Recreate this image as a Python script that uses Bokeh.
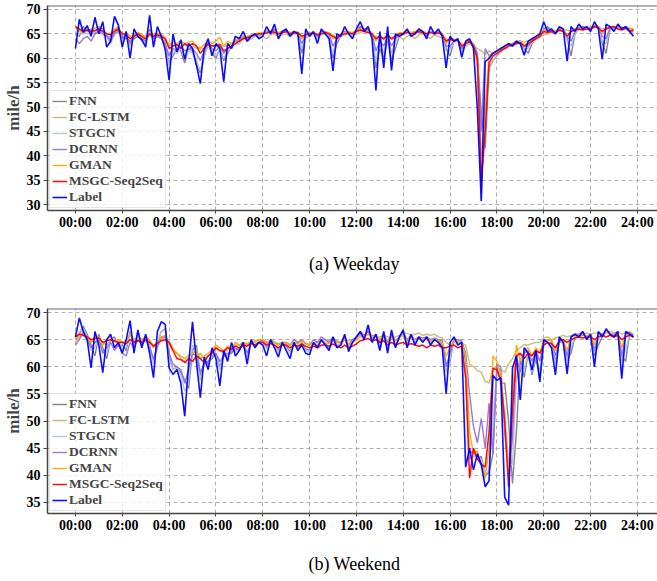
from bokeh.plotting import figure
from bokeh.layouts import column
from bokeh.models import Legend, LegendItem, Span, FixedTicker, Range1d
from bokeh.core.properties import value
from bokeh.embed import file_html
from bokeh.resources import INLINE

# ---------------- data (10-minute samples, 00:00 .. 23:50) ----------------
tick_hours = [0, 2, 4, 6, 8, 10, 12, 14, 16, 18, 20, 22, 24]
tick_labels = ["00:00", "02:00", "04:00", "06:00", "08:00", "10:00", "12:00",
               "14:00", "16:00", "18:00", "20:00", "22:00", "24:00"]
series_names = ["FNN", "FC-LSTM", "STGCN", "DCRNN", "GMAN", "MSGC-Seq2Seq", "Label"]
captions = ["(a)  Weekday", "(b)  Weekend"]

wd_label = [
    62.0, 68.0, 65.3, 66.7, 64.5, 68.4,  65.0, 67.5, 62.3, 63.5, 68.6, 66.8,
    62.3, 65.5, 60.0, 66.0, 64.5, 63.8,  62.3, 68.8, 62.3, 66.5, 64.5, 61.8,
    55.5, 65.0, 61.3, 63.8, 59.8, 63.0,  62.0, 58.6, 54.8, 62.0, 64.0, 60.5,
    63.0, 62.0, 55.2, 63.0, 62.0, 64.5,  64.0, 65.5, 63.5, 64.5, 65.0, 64.0,
    64.5, 66.5, 65.0, 67.0, 64.0, 65.5,  66.0, 64.5, 65.5, 65.0, 56.8, 66.0,
    64.5, 65.5, 63.0, 66.0, 65.0, 64.0,  57.4, 65.0, 64.5, 66.5, 65.0, 64.0,
    66.0, 67.5, 65.5, 66.5, 64.0, 53.4,  65.5, 58.0, 66.5, 57.5, 65.0, 64.5,
    65.0, 66.0, 64.5, 65.0, 66.0, 65.5,  64.0, 66.5, 65.0, 66.0, 64.5, 58.0,
    64.5, 63.5, 64.0, 60.2, 63.5, 64.0,  62.0, 49.5, 30.7, 59.3, 60.0, 61.0,
    61.5, 62.0, 62.5, 63.0, 62.5, 63.5,  63.0, 60.6, 63.5, 64.0, 64.5, 65.0,
    67.5, 65.5, 66.0, 65.0, 66.5, 66.0,  59.4, 66.5, 65.5, 67.0, 66.0, 66.5,
    65.5, 67.5, 66.0, 59.8, 67.0, 66.5,  65.5, 67.0, 66.0, 66.5, 65.5, 64.5]
wd_msgc = [
    66.5, 66.0, 65.5, 65.8, 65.5, 65.7,  66.0, 65.5, 65.0, 64.8, 65.5, 66.0,
    65.0, 64.8, 64.0, 64.5, 65.0, 64.5,  64.0, 65.0, 64.5, 64.8, 64.5, 64.0,
    62.0, 62.5, 62.8, 62.0, 63.0, 62.5,  63.0, 62.5, 61.0, 62.0, 63.0, 62.5,
    62.5, 62.8, 61.5, 62.0, 62.5, 63.0,  63.5, 64.0, 64.2, 64.5, 64.8, 65.0,
    65.0, 65.2, 65.5, 65.3, 65.0, 65.2,  65.5, 65.0, 65.2, 65.3, 64.5, 64.8,
    65.0, 65.2, 64.8, 65.0, 65.3, 65.0,  64.5, 64.0, 64.8, 65.0, 65.2, 65.0,
    65.5, 65.8, 65.5, 65.3, 65.0, 64.0,  64.5, 64.0, 64.8, 64.0, 64.5, 65.0,
    65.0, 65.3, 65.0, 65.2, 65.5, 65.3,  65.0, 65.3, 65.0, 65.2, 64.8, 63.5,
    64.0, 63.5, 63.8, 62.5, 63.0, 63.5,  62.5, 60.0, 34.7, 45.0, 59.0, 60.5,
    61.0, 61.5, 62.0, 62.5, 62.8, 63.0,  63.2, 62.5, 63.0, 63.5, 64.0, 64.5,
    65.5, 65.3, 65.5, 65.2, 65.8, 65.5,  64.5, 65.5, 65.8, 66.0, 65.8, 66.0,
    66.0, 66.5, 66.2, 65.5, 66.0, 66.3,  66.5, 66.0, 65.8, 66.2, 65.5, 65.8]
wd_fnn = [
    65.0, 64.5, 66.5, 65.5, 66.0, 65.0,  66.5, 66.0, 65.0, 63.5, 65.5, 66.5,
    64.0, 65.0, 63.0, 64.5, 65.0, 64.0,  63.5, 66.0, 64.5, 65.0, 64.5, 63.0,
    59.0, 60.5, 62.0, 61.5, 59.0, 62.0,  61.5, 58.5, 57.0, 60.5, 63.0, 61.0,
    60.0, 62.0, 59.5, 61.0, 62.5, 63.0,  63.0, 64.5, 63.5, 64.0, 64.5, 64.5,
    65.0, 65.5, 65.5, 66.0, 65.0, 65.5,  65.5, 65.0, 65.5, 65.0, 61.0, 65.0,
    65.0, 65.0, 64.0, 65.5, 65.0, 64.5,  60.0, 63.0, 64.5, 65.5, 65.0, 64.5,
    65.5, 66.5, 66.0, 66.0, 65.0, 58.0,  62.0, 60.0, 64.0, 59.5, 62.0, 64.5,
    65.0, 65.5, 65.0, 65.0, 65.5, 65.5,  64.5, 65.5, 65.0, 65.5, 65.0, 62.0,
    60.5, 63.5, 63.5, 62.0, 62.5, 63.5,  62.5, 60.0, 49.0, 41.5, 58.0, 59.5,
    60.5, 61.5, 62.0, 62.5, 62.5, 63.0,  63.0, 62.0, 61.0, 63.0, 64.0, 64.5,
    66.0, 66.5, 65.5, 65.0, 66.0, 66.0,  64.0, 60.5, 65.0, 66.0, 66.5, 66.0,
    66.0, 66.5, 66.5, 63.0, 61.0, 66.0,  66.0, 66.5, 66.0, 66.0, 66.0, 65.0]
wd_gman = [
    66.0, 65.5, 65.8, 66.0, 65.5, 66.2,  66.3, 65.5, 65.0, 65.0, 66.0, 66.2,
    65.0, 65.2, 64.5, 64.8, 65.3, 64.8,  64.5, 65.5, 64.8, 65.2, 65.0, 64.2,
    62.5, 63.5, 63.0, 63.5, 63.0, 63.3,  63.5, 62.5, 62.0, 62.8, 63.5, 63.0,
    63.5, 64.3, 62.5, 63.5, 63.0, 63.8,  64.0, 64.5, 64.5, 64.8, 65.0, 65.2,
    65.2, 65.5, 65.5, 65.5, 65.3, 65.5,  65.5, 65.3, 65.5, 65.3, 64.0, 65.0,
    65.3, 65.3, 65.0, 65.3, 65.5, 65.2,  64.0, 64.5, 65.0, 65.3, 65.5, 65.2,
    65.8, 66.0, 65.8, 65.5, 65.3, 63.5,  64.8, 63.8, 65.0, 63.8, 64.8, 65.2,
    65.3, 65.5, 65.3, 65.5, 65.8, 65.5,  65.2, 65.5, 65.3, 65.5, 65.0, 63.0,
    64.3, 63.8, 63.8, 62.5, 63.3, 63.8,  62.8, 59.0, 30.8, 50.0, 60.5, 61.0,
    61.3, 61.8, 62.3, 62.8, 63.0, 63.3,  63.5, 62.5, 63.3, 63.8, 64.3, 64.8,
    65.8, 65.5, 65.8, 65.5, 66.0, 65.8,  64.3, 65.5, 66.0, 66.2, 66.0, 66.2,
    66.2, 66.8, 66.3, 65.0, 66.2, 66.5,  66.5, 66.3, 66.0, 66.3, 65.8, 66.0]
wd_fclstm = [
    66.5, 65.5, 65.0, 65.8, 65.2, 65.5,  66.0, 65.5, 64.5, 64.5, 65.5, 65.8,
    64.8, 64.5, 64.0, 64.2, 64.8, 64.2,  64.0, 64.8, 64.2, 64.5, 64.2, 63.5,
    63.0, 62.5, 62.8, 62.5, 62.8, 62.0,  62.5, 62.0, 62.3, 61.8, 63.0, 62.5,
    62.8, 63.0, 62.5, 62.5, 63.0, 63.5,  63.8, 64.0, 64.3, 64.5, 64.5, 64.8,
    64.5, 64.0, 64.8, 65.0, 64.5, 64.8,  65.0, 64.5, 65.0, 64.8, 64.5, 64.2,
    64.5, 65.0, 64.5, 64.8, 65.0, 64.8,  64.8, 64.2, 64.5, 64.8, 65.0, 64.8,
    65.0, 65.3, 65.5, 65.2, 64.8, 64.5,  64.2, 64.0, 64.3, 64.0, 64.2, 64.5,
    63.8, 64.5, 64.8, 64.0, 64.8, 65.0,  64.5, 64.0, 64.8, 64.5, 64.2, 64.0,
    63.5, 64.0, 63.5, 63.0, 62.5, 63.0,  62.5, 62.0, 61.5, 60.8, 61.5, 61.0,
    61.5, 62.0, 62.3, 62.5, 63.0, 63.3,  63.5, 63.3, 63.5, 63.8, 64.0, 64.3,
    64.8, 65.0, 65.3, 65.5, 65.5, 65.8,  65.8, 65.5, 66.0, 65.8, 66.0, 66.2,
    66.0, 66.3, 66.5, 66.0, 66.2, 66.5,  66.3, 66.5, 66.0, 66.5, 66.2, 66.0]
wd_stgcn = [
    65.5, 65.0, 66.0, 65.0, 65.5, 65.3,  66.0, 65.5, 64.5, 63.0, 65.0, 66.0,
    64.5, 64.5, 62.5, 64.0, 64.5, 63.5,  63.0, 65.5, 64.0, 64.5, 64.0, 62.5,
    58.5, 61.5, 61.0, 62.0, 60.0, 61.5,  61.0, 59.5, 57.5, 60.5, 62.5, 61.5,
    60.5, 62.0, 60.0, 61.5, 62.0, 63.0,  63.0, 64.0, 63.5, 64.0, 64.5, 64.5,
    64.8, 65.3, 65.0, 65.5, 64.8, 65.2,  65.3, 64.8, 65.2, 65.0, 62.0, 64.5,
    64.8, 65.0, 64.0, 65.3, 65.0, 64.5,  61.0, 63.5, 64.5, 65.3, 65.0, 64.5,
    65.3, 66.3, 65.8, 65.8, 64.8, 59.5,  63.0, 61.0, 64.5, 61.0, 63.5, 64.5,
    64.8, 65.3, 64.8, 65.0, 65.3, 65.3,  64.5, 65.3, 64.8, 65.3, 64.8, 61.5,
    61.5, 63.5, 63.5, 61.5, 62.5, 63.5,  62.5, 58.0, 40.0, 50.0, 58.5, 59.5,
    60.8, 61.5, 62.0, 62.5, 62.8, 63.0,  63.0, 61.8, 62.0, 63.3, 64.0, 64.5,
    65.8, 66.0, 65.5, 65.0, 66.0, 65.8,  63.5, 62.5, 65.0, 66.0, 66.3, 66.0,
    66.0, 66.5, 66.3, 63.5, 63.0, 66.0,  66.0, 66.3, 66.0, 66.0, 65.8, 65.0]
wd_dcrnn = [
    64.0, 63.0, 64.0, 64.5, 63.5, 65.0,  65.5, 65.0, 64.5, 63.5, 65.0, 65.5,
    64.5, 64.0, 63.5, 64.0, 64.5, 64.0,  63.5, 65.0, 64.0, 64.5, 64.0, 63.0,
    60.5, 62.0, 61.5, 62.5, 61.5, 62.0,  62.0, 61.0, 59.5, 61.5, 63.0, 62.0,
    61.5, 62.5, 61.0, 62.0, 62.5, 63.5,  63.5, 64.5, 64.0, 64.5, 65.0, 65.0,
    65.0, 65.5, 65.3, 65.8, 65.0, 65.5,  65.8, 65.0, 65.5, 65.3, 63.0, 64.8,
    65.0, 65.3, 64.5, 65.5, 65.3, 65.0,  62.5, 64.0, 65.0, 65.5, 65.3, 65.0,
    65.5, 66.5, 66.0, 65.8, 65.0, 61.5,  63.5, 62.5, 64.5, 62.5, 64.0, 65.0,
    65.0, 65.5, 65.0, 65.3, 65.5, 65.5,  64.8, 65.5, 65.0, 65.5, 65.0, 62.5,
    62.5, 63.5, 63.8, 62.0, 63.0, 63.8,  63.0, 61.0, 45.0, 62.0, 60.5, 61.0,
    61.5, 62.0, 62.5, 63.0, 63.0, 63.5,  63.5, 62.5, 62.5, 63.5, 64.3, 64.8,
    66.0, 66.3, 65.8, 65.3, 66.3, 66.0,  64.5, 63.5, 65.5, 66.3, 66.5, 66.3,
    66.3, 66.8, 66.5, 64.5, 64.0, 66.3,  66.3, 66.5, 66.3, 66.3, 66.0, 65.5]

we_label = [
    65.5, 69.0, 66.5, 65.0, 59.8, 66.5,  64.0, 58.9, 65.0, 66.0, 63.5, 64.5,
    62.5, 65.0, 68.5, 62.5, 66.8, 63.5,  66.0, 62.5, 58.0, 66.5, 68.3, 67.8,
    59.8, 58.6, 59.5, 57.0, 50.9, 60.5,  68.3, 61.0, 54.3, 61.8, 59.5, 63.5,
    61.5, 56.5, 63.0, 61.0, 64.5, 62.0,  63.0, 64.5, 60.5, 65.0, 63.5, 64.5,
    64.0, 62.0, 65.0, 63.5, 61.8, 64.5,  63.0, 61.5, 64.5, 63.0, 64.0, 62.5,
    62.2, 64.5, 63.5, 65.0, 64.0, 63.0,  65.5, 63.5, 64.0, 66.0, 62.8, 64.5,
    65.5, 66.5, 65.0, 67.7, 64.5, 66.0,  63.0, 66.5, 62.5, 66.8, 63.5, 65.5,
    66.8, 63.5, 66.0, 64.0, 65.5, 64.5,  65.5, 64.0, 65.0, 64.5, 63.5, 55.0,
    64.5, 65.5, 64.0, 64.5, 41.5, 45.0,  41.0, 44.0, 42.0, 37.9, 39.0, 58.4,
    57.5, 58.0, 36.0, 34.5, 59.8, 62.0,  53.9, 63.5, 62.5, 59.4, 63.0, 57.2,
    65.0, 64.5, 63.5, 58.5, 65.5, 64.5,  58.7, 65.5, 66.0, 65.5, 66.5, 65.0,
    66.0, 60.0, 66.5, 65.5, 67.0, 66.0,  65.5, 66.5, 57.8, 66.5, 66.0, 65.5]
we_msgc = [
    65.5, 66.0, 65.8, 65.5, 65.0, 65.2,  65.3, 64.5, 64.8, 65.0, 64.8, 64.5,
    64.5, 64.3, 65.0, 64.5, 64.8, 64.5,  65.0, 64.5, 63.8, 64.3, 64.8, 65.0,
    64.5, 63.0, 61.5, 61.3, 60.8, 61.5,  61.0, 62.0, 61.5, 60.8, 62.0, 62.5,
    63.5, 63.0, 62.8, 63.5, 63.2, 63.8,  63.5, 64.0, 63.8, 64.3, 64.0, 64.5,
    64.5, 64.0, 64.3, 64.0, 63.5, 64.0,  64.0, 63.5, 64.0, 63.8, 64.2, 63.8,
    63.5, 63.8, 63.5, 64.0, 64.0, 63.8,  64.2, 63.8, 63.5, 64.0, 63.5, 63.8,
    64.2, 64.8, 65.0, 65.2, 64.8, 65.0,  64.5, 64.8, 64.0, 64.5, 64.0, 64.3,
    64.5, 64.0, 64.3, 64.0, 63.8, 64.0,  63.5, 64.0, 63.8, 64.0, 63.5, 63.5,
    63.8, 64.0, 63.5, 63.8, 58.0, 39.5,  45.0, 43.0, 42.0, 41.5, 48.0, 59.7,
    59.5, 57.5, 50.0, 37.8, 52.0, 62.0,  62.5, 61.5, 62.5, 62.0, 63.0, 62.5,
    64.0, 64.5, 64.3, 63.5, 64.8, 65.0,  64.5, 65.0, 65.3, 65.5, 65.3, 65.5,
    65.5, 65.0, 65.5, 65.8, 65.5, 65.8,  65.5, 65.8, 65.0, 65.5, 65.8, 65.5]
we_gman = [
    65.0, 66.0, 66.0, 65.5, 64.5, 65.5,  65.5, 64.0, 65.0, 65.5, 64.5, 65.0,
    64.5, 64.8, 66.0, 64.8, 65.5, 65.0,  65.5, 65.0, 63.5, 64.5, 65.5, 65.8,
    64.0, 63.0, 62.5, 62.0, 61.5, 62.0,  62.5, 63.0, 61.5, 62.0, 62.5, 63.0,
    64.0, 63.5, 63.0, 63.8, 63.5, 64.5,  64.0, 64.5, 64.0, 64.8, 64.5, 65.0,
    65.0, 64.5, 64.8, 64.5, 64.0, 64.5,  64.5, 64.0, 64.5, 64.2, 64.8, 64.3,
    64.0, 64.5, 64.0, 64.8, 64.5, 64.3,  65.0, 64.5, 64.3, 65.0, 64.0, 64.5,
    65.0, 65.8, 65.5, 66.0, 65.5, 65.8,  65.0, 65.8, 64.8, 65.5, 64.8, 65.3,
    65.8, 64.8, 65.5, 65.0, 65.3, 65.0,  65.0, 64.8, 65.0, 64.8, 64.5, 62.0,
    63.5, 65.0, 64.5, 64.5, 62.0, 48.0,  44.0, 44.5, 42.0, 39.5, 45.0, 62.0,
    61.0, 58.5, 50.0, 40.0, 55.0, 64.0,  61.0, 63.0, 63.5, 62.0, 63.5, 62.5,
    65.0, 65.0, 64.8, 63.0, 65.3, 65.0,  63.0, 65.5, 66.0, 65.8, 66.3, 65.5,
    66.0, 64.0, 66.3, 65.8, 66.5, 66.0,  65.8, 66.3, 63.5, 66.0, 66.0, 65.5]
we_fclstm = [
    64.5, 65.5, 65.8, 65.0, 64.8, 64.5,  65.0, 64.5, 64.0, 64.8, 65.0, 64.3,
    64.5, 64.0, 65.0, 65.3, 65.0, 64.5,  65.0, 64.8, 64.0, 64.2, 65.0, 65.5,
    64.8, 63.5, 62.5, 61.5, 61.0, 60.5,  61.0, 61.8, 62.5, 61.5, 62.0, 62.8,
    63.5, 63.0, 62.5, 63.0, 63.5, 64.0,  64.0, 64.5, 64.3, 64.5, 64.8, 65.0,
    64.8, 64.5, 64.8, 64.5, 64.3, 64.5,  64.3, 64.0, 64.3, 64.5, 64.5, 64.3,
    64.0, 64.3, 64.5, 64.8, 65.0, 64.8,  65.0, 64.8, 64.5, 65.0, 64.8, 65.0,
    65.3, 65.5, 65.8, 66.0, 65.8, 65.5,  65.5, 65.8, 65.5, 65.3, 65.5, 65.8,
    66.0, 66.2, 65.8, 66.0, 66.2, 65.8,  66.0, 65.8, 66.0, 65.5, 65.3, 64.5,
    64.0, 64.5, 64.8, 64.3, 64.0, 60.5,  60.0, 59.3, 59.0, 57.3, 57.0, 59.8,
    60.0, 59.5, 59.0, 60.5, 61.5, 63.0,  63.5, 64.1, 64.0, 64.3, 64.5, 64.5,
    65.3, 65.5, 65.0, 65.3, 65.5, 65.8,  65.5, 65.8, 66.0, 65.8, 66.0, 66.2,
    66.0, 66.2, 66.3, 66.0, 66.3, 66.5,  66.3, 66.5, 66.0, 66.3, 66.5, 66.0]
we_dcrnn = [
    64.0, 65.0, 66.5, 65.0, 63.5, 64.5,  65.0, 62.5, 63.5, 64.5, 63.0, 64.0,
    62.5, 62.0, 64.5, 63.5, 65.0, 64.0,  65.0, 63.5, 61.5, 63.5, 65.5, 65.5,
    62.5, 60.5, 60.0, 59.5, 57.0, 59.5,  62.5, 62.0, 59.0, 60.5, 61.0, 61.5,
    62.5, 61.0, 62.0, 62.5, 62.5, 63.5,  63.0, 64.5, 62.5, 64.5, 64.0, 64.5,
    65.0, 64.0, 65.0, 64.5, 64.0, 64.5,  64.5, 64.0, 65.0, 64.5, 65.0, 64.3,
    64.0, 65.0, 64.5, 65.5, 65.0, 64.5,  65.5, 64.5, 64.5, 65.5, 64.0, 65.0,
    65.5, 66.5, 65.8, 66.5, 65.5, 66.0,  64.5, 66.0, 64.5, 66.0, 64.8, 65.5,
    66.3, 65.0, 65.8, 65.0, 65.5, 65.3,  65.5, 65.0, 65.3, 65.0, 64.8, 60.0,
    62.5, 65.0, 65.0, 64.8, 62.5, 55.0,  49.0, 46.0, 50.5, 45.0, 53.3, 44.0,
    60.5, 60.0, 48.0, 40.0, 47.0, 62.0,  59.0, 62.5, 63.0, 61.0, 63.0, 61.0,
    64.5, 65.0, 64.8, 62.0, 65.0, 65.0,  62.0, 65.5, 66.0, 66.0, 66.5, 65.5,
    66.0, 63.0, 66.3, 66.0, 66.5, 66.0,  66.0, 66.5, 62.0, 66.0, 66.3, 65.8]
we_fnn = [
    65.0, 66.0, 67.5, 66.0, 64.0, 62.0,  66.0, 63.5, 61.5, 65.0, 65.5, 64.0,
    64.0, 63.0, 66.5, 64.0, 66.0, 64.5,  65.5, 64.0, 61.0, 64.5, 66.5, 67.0,
    62.0, 59.5, 60.0, 59.0, 57.5, 56.0,  63.0, 64.0, 58.5, 60.5, 61.0, 62.0,
    62.5, 60.0, 62.0, 62.0, 63.0, 63.0,  63.5, 64.0, 62.0, 64.5, 64.0, 64.5,
    64.5, 63.5, 64.5, 64.0, 63.0, 64.5,  63.8, 62.8, 64.3, 63.5, 64.3, 63.3,
    63.0, 64.3, 63.8, 64.8, 64.3, 63.5,  65.0, 64.0, 64.0, 65.5, 63.5, 64.5,
    65.3, 66.0, 65.3, 66.8, 65.0, 65.8,  64.0, 65.8, 63.5, 66.0, 64.0, 65.3,
    66.3, 64.3, 65.8, 64.5, 65.3, 64.8,  65.3, 64.5, 65.0, 64.8, 64.0, 60.5,
    61.0, 65.0, 64.5, 64.5, 61.0, 44.0,  44.5, 43.0, 43.5, 40.0, 40.5, 44.0,
    60.0, 57.0, 57.0, 50.0, 38.5, 48.0,  61.5, 58.0, 62.5, 58.5, 61.5, 58.0,
    64.0, 64.5, 64.0, 61.0, 64.5, 64.5,  61.5, 62.5, 65.5, 65.5, 66.0, 65.5,
    66.0, 62.0, 64.0, 65.5, 66.5, 66.0,  65.5, 66.0, 62.0, 61.0, 66.0, 65.5]
we_stgcn = [
    65.3, 66.5, 67.0, 65.5, 63.0, 63.5,  65.5, 62.5, 62.5, 65.0, 65.0, 64.3,
    63.5, 63.5, 66.3, 63.8, 65.8, 64.3,  65.3, 63.8, 60.5, 64.5, 66.5, 66.8,
    61.5, 59.5, 59.8, 58.5, 55.5, 57.5,  64.0, 63.0, 57.5, 60.8, 60.5, 62.3,
    62.3, 59.5, 62.3, 61.8, 63.3, 62.8,  63.3, 64.3, 62.0, 64.5, 63.8, 64.5,
    64.3, 63.3, 64.5, 63.8, 62.8, 64.3,  63.5, 62.5, 64.3, 63.3, 64.0, 63.0,
    62.8, 64.3, 63.5, 64.8, 64.0, 63.5,  65.0, 63.8, 64.0, 65.5, 63.3, 64.5,
    65.3, 66.0, 65.3, 66.8, 64.8, 65.8,  63.8, 65.8, 63.3, 66.0, 63.8, 65.3,
    66.3, 64.0, 65.8, 64.5, 65.3, 64.5,  65.3, 64.3, 65.0, 64.5, 63.8, 59.0,
    61.5, 65.0, 64.3, 64.5, 58.0, 43.0,  43.5, 43.5, 43.0, 40.0, 41.0, 50.0,
    59.0, 57.5, 52.0, 42.0, 42.0, 58.0,  60.0, 59.5, 62.5, 59.0, 62.0, 59.0,
    64.3, 64.5, 63.8, 60.5, 64.8, 64.3,  61.0, 63.5, 65.8, 65.5, 66.3, 65.3,
    66.0, 62.5, 65.0, 65.5, 66.5, 66.0,  65.5, 66.3, 61.0, 63.0, 66.0, 65.5]

hours = [i / 6 for i in range(len(wd_label))]

colors = ["#808080", "#c8b870", "#b0c4de", "#9370db", "#ffa500", "#ff0000", "#0000ff"]
widths = [1.4, 1.4, 1.4, 1.4, 1.4, 1.5, 1.6]

SERIF = "Liberation Serif"
W = 657


def make_panel(series, y_start, y_end, height, border_top, border_bottom):
    p = figure(width=W, height=height, output_backend="svg", toolbar_location=None,
               x_range=Range1d(-1.194, 24.86), y_range=Range1d(y_start, y_end),
               min_border_left=46, min_border_right=0, min_border_top=border_top,
               min_border_bottom=border_bottom)
    p.outline_line_color = None
    items = []
    for name, ys, c, w in zip(series_names, series, colors, widths):
        r = p.line(hours, ys, line_color=c, line_width=w, line_alpha=0.95)
        items.append(LegendItem(label=name, renderers=[r]))
    legend = Legend(items=items, location="bottom_left",
                    label_text_font=SERIF, label_text_font_style="bold",
                    label_text_font_size="13.5px", label_height=14, glyph_height=14,
                    glyph_width=15, label_standoff=2, spacing=0, padding=2, margin=2,
                    border_line_color="#cccccc", background_fill_alpha=0.8)
    p.add_layout(legend)

    p.xaxis.ticker = FixedTicker(ticks=tick_hours)
    p.xaxis.major_label_overrides = {h: s for h, s in zip(tick_hours, tick_labels)}
    p.yaxis.ticker = FixedTicker(ticks=[v for v in range(30, 71, 5) if v >= y_start])
    for ax in (p.xaxis[0], p.yaxis[0]):
        ax.major_label_text_font = SERIF
        ax.major_label_text_font_style = "bold"
        ax.major_label_text_font_size = "14px"
        ax.major_label_text_color = "#000000"
        ax.axis_line_color = "#444444"
        ax.axis_line_width = 1.5
        ax.major_tick_line_color = "#444444"
        ax.major_tick_in = 0
        ax.minor_tick_line_color = None
    p.xaxis.major_tick_out = 3
    p.xaxis.major_label_standoff = 1
    p.yaxis.major_tick_out = 4
    p.yaxis.major_label_standoff = 3
    p.yaxis.axis_label = "mile/h"
    p.yaxis.axis_label_text_font = SERIF
    p.yaxis.axis_label_text_font_style = "bold"
    p.yaxis.axis_label_text_font_size = "17px"
    p.yaxis.axis_label_standoff = 1
    p.grid.grid_line_color = "#b0b0b0"
    p.grid.grid_line_dash = "4 3"
    p.grid.grid_line_width = 1
    p.add_layout(Span(location=y_end, dimension="width", line_color="#666666", line_width=2))
    return p


def make_caption(text, height, text_y):
    c = figure(width=W, height=height, output_backend="svg", toolbar_location=None,
               x_range=Range1d(0, W), y_range=Range1d(0, height),
               x_axis_type=None, y_axis_type=None, min_border=0)
    c.outline_line_color = None
    c.grid.visible = False
    c.text(x=[333], y=[text_y], text=[text], text_font=value(SERIF),
           text_font_size="18px", text_align="center", text_baseline="middle",
           text_color="#000000")
    return c


p1 = make_panel([wd_fnn, wd_fclstm, wd_stgcn, wd_dcrnn, wd_gman, wd_msgc, wd_label],
                28.77, 70.82, 240, 5, 30)
c1 = make_caption(captions[0], 48, 25)
p2 = make_panel([we_fnn, we_fclstm, we_stgcn, we_dcrnn, we_gman, we_msgc, we_label],
                32.97, 70.74, 255, 20, 30)
c2 = make_caption(captions[1], 38, 18)

layout = column(p1, c1, p2, c2, spacing=0)
open("out.html", "w").write(file_html(layout, INLINE))
